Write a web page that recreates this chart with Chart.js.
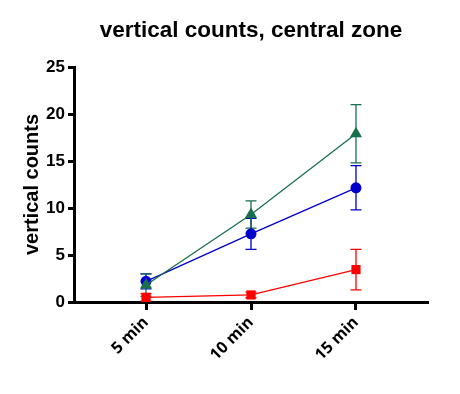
<!DOCTYPE html>
<html>
<head>
<meta charset="utf-8">
<script src="https://cdn.jsdelivr.net/npm/chart.js@4/dist/chart.umd.min.js"></script>
<style>
html,body{margin:0;padding:0;background:#fff;}
#wrap{width:460px;height:394px;}
</style>
</head>
<body>
<div id="wrap"><canvas id="c" width="460" height="394"></canvas></div>
<script>
const chartTitle = "vertical counts, central zone";
const yTitle = "vertical counts";
const categories = ["5 min", "10 min", "15 min"];
const yTicks = [0, 5, 10, 15, 20, 25];
const seriesNames = ["red", "blue", "green"];
const redMean = [0.5, 0.75, 3.45];
const redErr = [0.4, 0.3, 2.15];
const blueMean = [2.2, 7.25, 12.15];
const blueErr = [0.8, 1.65, 2.35];
const greenMean = [1.8, 9.3, 17.9];
const greenErr = [1.2, 1.45, 3.1];

const colors = {red: "#FF0000", blue: "#0000CC", green: "#17704D"};

function mk(label, means, errs, color, style, order, radius){
  return {
    label: label,
    data: means.map((v,i)=>({x:i, y:v})),
    errs: errs,
    borderColor: color,
    backgroundColor: color,
    borderWidth: 1.3,
    pointStyle: style,
    pointRadius: radius,
    pointHoverRadius: radius,
    pointBorderWidth: 0,
    order: order,
    tension: 0
  };
}

const errorBars = {
  id: "errorBars",
  beforeDatasetsDraw(chart){
    const ctx = chart.ctx;
    const xs = chart.scales.x, ys = chart.scales.y;
    chart.data.datasets.slice().sort((a,b)=>b.order-a.order).forEach(ds=>{
      ctx.save();
      ctx.strokeStyle = ds.borderColor;
      ctx.lineWidth = 1.3;
      ds.data.forEach((p,i)=>{
        const e = ds.errs[i];
        const x = xs.getPixelForValue(p.x);
        const yt = ys.getPixelForValue(p.y + e);
        const yb = ys.getPixelForValue(Math.max(p.y - e, 0));
        ctx.beginPath();
        ctx.moveTo(x, yt); ctx.lineTo(x, yb);
        ctx.moveTo(x-5.5, yt); ctx.lineTo(x+5.5, yt);
        if (p.y - e > 0){ ctx.moveTo(x-5.5, yb); ctx.lineTo(x+5.5, yb); }
        ctx.stroke();
      });
      ctx.restore();
    });
  }
};

const centeredTitle = {
  id: "centeredTitle",
  afterDraw(chart){
    const ctx = chart.ctx, a = chart.chartArea;
    ctx.save();
    ctx.fillStyle = "#000";
    ctx.font = "bold 22.5px 'Liberation Sans', Arial";
    ctx.textAlign = "center";
    ctx.textBaseline = "middle";
    ctx.fillText(chartTitle, (a.left + a.right) / 2, 31);
    ctx.restore();
  }
};

new Chart(document.getElementById("c"), {
  type: "line",
  data: {
    datasets: [
      mk(seriesNames[2], greenMean, greenErr, colors.green, "triangle", 1, 7),
      mk(seriesNames[1], blueMean, blueErr, colors.blue, "circle", 2, 5.5),
      mk(seriesNames[0], redMean, redErr, colors.red, "rect", 3, 6.5)
    ]
  },
  options: {
    responsive: false,
    animation: false,
    events: [],
    layout: {padding: {left: 0, right: 32, top: 67, bottom: 0}},
    plugins: {
      legend: {display: false},
      tooltip: {enabled: false},
      title: {display: false}
    },
    scales: {
      x: {
        type: "linear",
        min: -0.686,
        max: 2.686,
        afterBuildTicks: s => { s.ticks = categories.map((c,i)=>({value:i})); },
        afterFit: s => { s.height = 92; },
        ticks: {
          callback: (v) => categories[v],
          color: "#000",
          font: {family: "'Open Sans', Arial", size: 16, weight: "bold"},
          minRotation: 45,
          maxRotation: 45,
          padding: 3
        },
        grid: {display: true, drawOnChartArea: false, drawTicks: true, tickLength: 8, tickWidth: 3, tickColor: "#000"},
        border: {display: true, color: "#000", width: 3}
      },
      y: {
        type: "linear",
        min: 0,
        max: 25,
        afterBuildTicks: s => { s.ticks = yTicks.map(v=>({value:v})); },
        afterFit: s => { s.width = 74; },
        ticks: {
          color: "#000",
          font: {family: "'Liberation Sans', Arial", size: 17, weight: "bold"},
          padding: 3
        },
        title: {
          display: true,
          text: yTitle,
          color: "#000",
          font: {family: "'Liberation Sans', Arial", size: 20, weight: "bold"},
          padding: {top: 20, bottom: 0}
        },
        grid: {display: true, drawOnChartArea: false, drawTicks: true, tickLength: 6, tickWidth: 3, tickColor: "#000"},
        border: {display: true, color: "#000", width: 3}
      }
    }
  },
  plugins: [errorBars, centeredTitle]
});
</script>
</body>
</html>
